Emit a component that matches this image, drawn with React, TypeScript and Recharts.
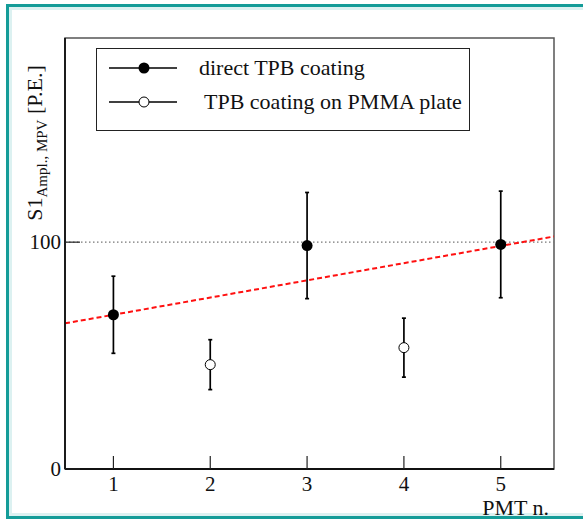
import {
  ComposedChart,
  XAxis,
  YAxis,
  Scatter,
  ErrorBar,
  Line,
  ReferenceLine,
  ReferenceArea,
} from "recharts";

// direct TPB coating
const directPmt = [1, 3, 5];
const directS1 = [68, 98.5, 99];
const directErr = [17, 23.4, 23.5];

// TPB coating on PMMA plate
const pmmaPmt = [2, 4];
const pmmaS1 = [46, 53.5];
const pmmaErr = [11, 13];

// linear fit, drawn across the frame
const fitPmt = [0.5, 5.55];
const fitS1 = [64.2, 102.5];

const xTicks = [1, 2, 3, 4, 5];
const yTicks = [0, 100];

const directData = directPmt.map((x, i) => ({ x, y: directS1[i], err: directErr[i] }));
const pmmaData = pmmaPmt.map((x, i) => ({ x, y: pmmaS1[i], err: pmmaErr[i] }));
const fitData = fitPmt.map((x, i) => ({ x, y: fitS1[i] }));

const FONT = "Liberation Serif";

const XTick = (props: any) => {
  const { x, y, payload } = props;
  return (
    <g>
      <line x1={x} x2={x} y1={y} y2={y - 13} stroke="#222" strokeWidth={1.2} />
      <text x={x} y={y + 22} textAnchor="middle" fontFamily={FONT} fontSize={21} fill="#111">
        {payload.value}
      </text>
    </g>
  );
};

const YTick = (props: any) => {
  const { x, y, payload } = props;
  return (
    <g>
      <line x1={x} x2={x + 15} y1={y} y2={y} stroke="#222" strokeWidth={1.2} />
      <text x={x - 4} y={y + 7} textAnchor="end" fontFamily={FONT} fontSize={21} fill="#111">
        {payload.value}
      </text>
    </g>
  );
};

const filledDot = (props: any) => (
  <circle cx={props.cx} cy={props.cy} r={5.5} fill="#000" />
);
const openDot = (props: any) => (
  <circle cx={props.cx} cy={props.cy} r={5} fill="#fff" stroke="#000" strokeWidth={1} />
);

const yLabel = (props: any) => {
  const vb = props.viewBox || { x: 0, y: 38, width: 65, height: 431 };
  const cx = vb.x + 42;
  const cy = 143;
  return (
    <text
      x={cx}
      y={cy}
      transform={`rotate(-90, ${cx}, ${cy})`}
      textAnchor="middle"
      fontFamily={FONT}
      fontSize={22}
      fill="#111"
    >
      <tspan>S1</tspan>
      <tspan fontSize={15} dy={5}>Ampl., MPV</tspan>
      <tspan dy={-5}> [P.E.]</tspan>
    </text>
  );
};

const xLabel = (props: any) => {
  const vb = props.viewBox || { x: 65, y: 469, width: 489, height: 56 };
  return (
    <text
      x={vb.x + vb.width - 5}
      y={vb.y + 46}
      textAnchor="end"
      fontFamily={FONT}
      fontSize={22}
      fill="#111"
    >
      PMT n.
    </text>
  );
};

function LegendBox() {
  const row = (filled: boolean, text: string, top: number, indent: number) => (
    <svg
      width={372}
      height={34}
      style={{ position: "absolute", left: 0, top }}
    >
      <line x1={12} x2={80} y1={17} y2={17} stroke="#000" strokeWidth={1.5} />
      {filled ? (
        <circle cx={47} cy={17} r={5.5} fill="#000" />
      ) : (
        <circle cx={47} cy={17} r={5} fill="#fff" stroke="#000" strokeWidth={1} />
      )}
      <text x={102 + indent} y={24} fontFamily={FONT} fontSize={22} fill="#111">
        {text}
      </text>
    </svg>
  );
  return (
    <div
      style={{
        position: "absolute",
        left: 96,
        top: 48,
        width: 374,
        height: 83,
        border: "1.5px solid #222",
        boxSizing: "border-box",
        background: "#fff",
      }}
    >
      {row(true, "direct TPB coating", 2, 0)}
      {row(false, "TPB coating on PMMA plate", 36, 5)}
    </div>
  );
}

export default function App() {
  return (
    <div
      style={{
        position: "fixed",
        left: 0,
        top: 0,
        width: 583,
        height: 525,
        background: "#fff",
        overflow: "hidden",
      }}
    >
      <div
        style={{
          position: "absolute",
          left: 6,
          top: 4,
          width: 620,
          height: 515,
          border: "3px solid #149c98",
          boxShadow: "inset 0 0 0 3px #dcf1f1",
          boxSizing: "border-box",
        }}
      />
      <div style={{ position: "absolute", left: 0, top: 0 }}>
        <ComposedChart
          width={583}
          height={525}
          margin={{ top: 38, right: 29, bottom: 0, left: 0 }}
        >
          <XAxis
            type="number"
            dataKey="x"
            domain={[0.5, 5.55]}
            ticks={xTicks}
            allowDataOverflow
            height={56}
            tickSize={0}
            tickMargin={0}
            tickLine={false}
            tick={<XTick />}
            axisLine={{ stroke: "#111", strokeWidth: 1.8 }}
            label={{ content: xLabel }}
          />
          <YAxis
            type="number"
            dataKey="y"
            domain={[0, 190]}
            ticks={yTicks}
            allowDataOverflow
            width={65}
            tickSize={0}
            tickMargin={0}
            tickLine={false}
            tick={<YTick />}
            axisLine={{ stroke: "#111", strokeWidth: 1.8 }}
            label={{ content: yLabel }}
          />
          <ReferenceArea
            x1={0.5}
            x2={5.55}
            y1={0}
            y2={190}
            fill="none"
            fillOpacity={0}
            stroke="#555"
            strokeWidth={1.5}
          />
          <ReferenceLine y={100} stroke="#777" strokeDasharray="1.5 2.5" strokeWidth={1.2} />
          <Line
            data={fitData}
            dataKey="y"
            stroke="#ff1010"
            strokeWidth={2}
            strokeDasharray="5 3"
            dot={false}
            activeDot={false}
            isAnimationActive={false}
          />
          <Scatter data={directData} dataKey="y" shape={filledDot} isAnimationActive={false}>
            <ErrorBar dataKey="err" direction="y" width={2} stroke="#000" strokeWidth={1.7} />
          </Scatter>
          <Scatter data={pmmaData} dataKey="y" shape={openDot} isAnimationActive={false}>
            <ErrorBar dataKey="err" direction="y" width={2} stroke="#000" strokeWidth={1.7} />
          </Scatter>
        </ComposedChart>
      </div>
      <LegendBox />
    </div>
  );
}
